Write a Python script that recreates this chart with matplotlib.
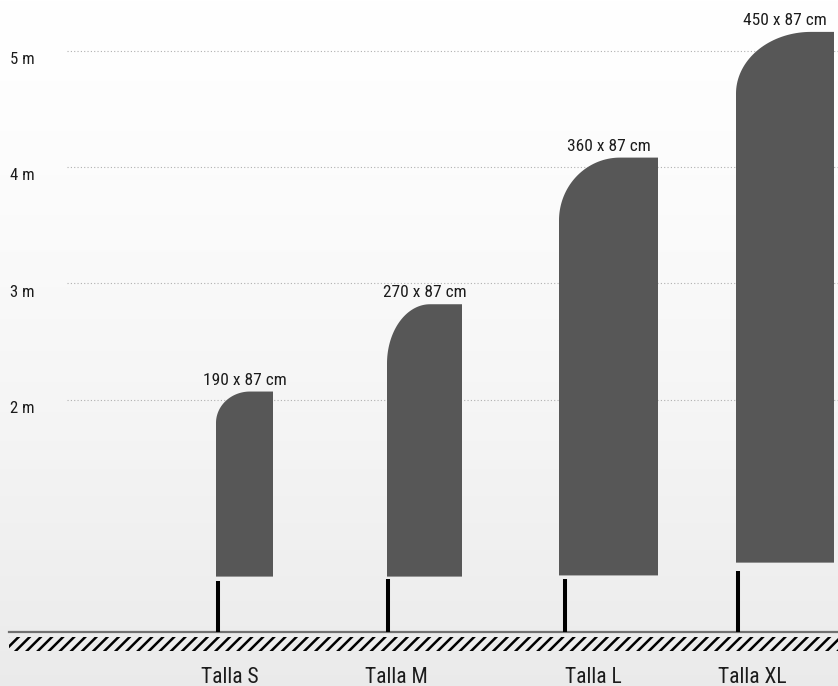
import matplotlib.pyplot as plt
import numpy as np
from matplotlib.patches import Polygon, Rectangle

# data (heights in metres)
sizes = ['Talla S', 'Talla M', 'Talla L', 'Talla XL']
dims = ['190 x 87 cm', '270 x 87 cm', '360 x 87 cm', '450 x 87 cm']
flag_top = [2.07, 2.82, 4.08, 5.16]
flag_bottom = [0.48, 0.48, 0.49, 0.60]
pole_top = [0.44, 0.46, 0.46, 0.53]
grid_levels = [2, 3, 4, 5]
grid_labels = ['2 m', '3 m', '4 m', '5 m']

# layout (x in pixel-like units across the figure)
pole_x = [218, 388, 565, 738]
flag_left = [216, 387, 559, 736]
flag_right = [273, 462, 658, 834]
corner_rx = [34, 43, 61, 75]
corner_ry = [0.27, 0.51, 0.54, 0.53]
label_x = [230, 396, 593, 752]

plt.rcParams['font.family'] = ['Roboto Condensed', 'Roboto', 'DejaVu Sans']
plt.rcParams['hatch.linewidth'] = 1.8

flag_color = '#575757'
text_color = '#1c1c1c'
ymin, ymax = -0.46, 5.434

fig = plt.figure(figsize=(8.38, 6.86), dpi=100)
ax = fig.add_axes([0, 0, 1, 1])
ax.set_xlim(0, 838)
ax.set_ylim(ymin, ymax)
ax.axis('off')

# background gradient, white on top to light grey at the bottom
t = np.linspace(0, 1, 256)[:, None, None] ** 1.4
top = np.array([1.0, 1.0, 1.0])
bottom = np.array([0.92, 0.92, 0.92])
grad = top + (bottom - top) * t
ax.imshow(grad, extent=[0, 838, ymin, ymax], aspect='auto', zorder=0)

# dotted guide lines and their labels
ax.hlines(grid_levels, 67, 838, colors='#b0b0b0', linestyles=(0, (1, 2)), lw=0.8, zorder=1)
for lvl, lab in zip(grid_levels, grid_labels):
    ax.text(10, lvl - 0.075, lab, fontsize=12, color=text_color, ha='left', va='center', zorder=3)

# ground
ax.plot([9, 838], [0, 0], color='#707070', lw=1.6, zorder=2)
ax.add_patch(Rectangle((9, -0.159), 838 - 9, 0.12, facecolor='none', edgecolor='black',
                       hatch='///', lw=0, zorder=2))

# poles
ax.vlines(pole_x, 0, pole_top, colors='black', lw=2.9, zorder=3)

# flags
for i in range(len(sizes)):
    xl, xr = flag_left[i], flag_right[i]
    yb, yt = flag_bottom[i], flag_top[i]
    rx, ry = corner_rx[i], corner_ry[i]
    th = np.linspace(np.pi, np.pi / 2, 40)
    arc = np.column_stack([xl + rx + rx * np.cos(th), yt - ry + ry * np.sin(th)])
    pts = np.vstack([[xl, yb], arc, [xr, yt], [xr, yb]])
    ax.add_patch(Polygon(pts, closed=True, facecolor=flag_color, edgecolor='none', zorder=3))
    ax.text((xl + xr) / 2, yt + 0.06, dims[i], fontsize=12.5, color=text_color,
            ha='center', va='baseline', zorder=4)
    ax.text(label_x[i], -0.43, sizes[i], fontsize=15.5, color=text_color,
            ha='center', va='baseline', zorder=4)

fig.savefig('out.png', dpi=100)
